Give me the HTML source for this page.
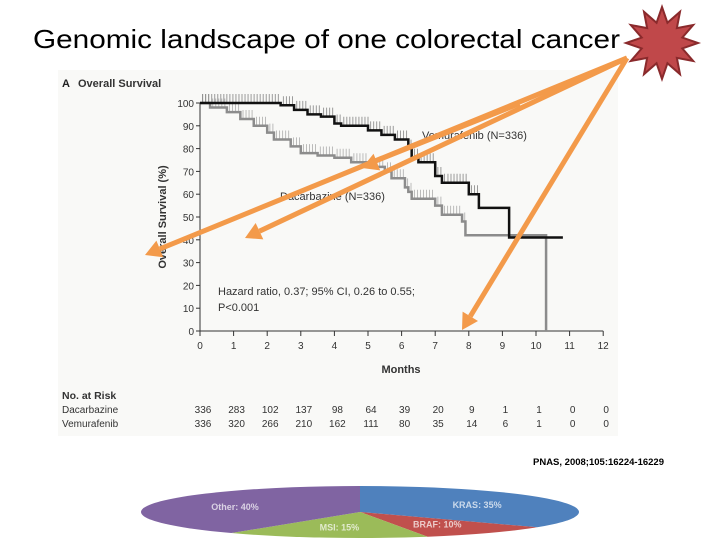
<!DOCTYPE html>
<html><head><meta charset="utf-8"><style>
html,body{margin:0;padding:0;background:#fff;width:720px;height:540px;overflow:hidden}
svg{display:block;font-family:"Liberation Sans",sans-serif}
</style></head><body>
<svg id="c" width="720" height="540" viewBox="0 0 720 540">
<text x="33" y="48" font-size="26" textLength="587" lengthAdjust="spacingAndGlyphs" fill="#000">Genomic landscape of one colorectal cancer</text>
<rect x="58" y="70" width="560" height="366" fill="#f9f9f7"/>
<text x="62" y="87" font-size="11" font-weight="bold" fill="#222">A</text>
<text x="78" y="87" font-size="11" font-weight="bold" fill="#333">Overall Survival</text>
<text transform="translate(166,217) rotate(-90)" text-anchor="middle" font-size="11" font-weight="bold" fill="#333">Overall Survival (%)</text>
<text x="401" y="373" text-anchor="middle" font-size="11" font-weight="bold" fill="#333">Months</text>
<text x="218" y="295" font-size="11" fill="#333">Hazard ratio, 0.37; 95% CI, 0.26 to 0.55;</text>
<text x="218" y="311" font-size="11" fill="#333">P&lt;0.001</text>
<text x="422" y="139" font-size="11" fill="#333">Vemurafenib (N=336)</text>
<text x="280" y="200" font-size="11" fill="#333">Dacarbazine (N=336)</text>
<text x="62" y="399" font-size="10.5" font-weight="bold" fill="#333">No. at Risk</text>
<text x="62" y="413" font-size="10" fill="#333">Dacarbazine</text>
<text x="62" y="427" font-size="10" fill="#333">Vemurafenib</text>
<text x="533" y="465" font-size="9.5" font-weight="bold" fill="#000">PNAS, 2008;105:16224-16229</text>
<g id="plot"></g>
<g id="pie"></g>
<g id="arrows"></g>
<polygon id="star" fill="#c0484a" stroke="#8a2a2c" stroke-width="2"/>
</svg>
<script>
const months = [0,1,2,3,4,5,6,7,8,9,10,11,12];
const yTicks = [0,10,20,30,40,50,60,70,80,90,100];
const vemT = [0,2.4,2.8,3.2,3.6,4.0,4.2,5.0,5.4,5.8,6.2,6.3,6.5,7.0,7.2,7.3,8.0,8.3,9.2,10.8];
const vemS = [100,99,97,95,94,91,90,88,86,84,80,76,74,68,65,65,60,54,41,41];
const dacT = [0,0.3,0.8,1.2,1.6,2.0,2.2,2.7,3.0,3.5,4.0,4.5,5.0,5.5,5.7,6.1,6.2,6.3,7.0,7.2,7.8,7.9,10.3];
const dacS = [100,98,96,93,90,87,84,81,78,77,76,74,72,70,67,63,61,58,55,51,48,42,0];
const riskDac = [336,283,102,137,98,64,39,20,9,1,1,0,0];
const riskVem = [336,320,266,210,162,111,80,35,14,6,1,0,0];
const pieLabels = ["KRAS: 35%","BRAF: 10%","MSI: 15%","Other: 40%"];
const pieValues = [35,10,15,40];
const pieColors = ["#4f81bd","#c0504d","#9bbb59","#8064a2"];

const NS="http://www.w3.org/2000/svg";
const X=m=>200+m*33.6, Y=v=>331-v*2.28;
const plot=document.getElementById('plot');
function mk(t,a,p){const e=document.createElementNS(NS,t);for(const k in a)e.setAttribute(k,a[k]);(p||plot).appendChild(e);return e;}
const ax=mk('path',{d:`M${X(0)},${Y(0)}V${Y(100)}M${X(0)},${Y(0)}H${X(12)}`,stroke:'#333','stroke-width':1,fill:'none'});


months.forEach(m=>{
 const t=mk('line',{x1:X(m),x2:X(m),y1:Y(0),y2:Y(0)+5,stroke:'#333'});
 
 
 const l=mk('text',{x:X(m),y:Y(0)+18,'text-anchor':'middle','font-size':10,fill:'#333'});l.textContent=m;
 
 
 const a=mk('text',{x:X(m)+3,y:413,'text-anchor':'middle','font-size':10,fill:'#333'});a.textContent=riskDac[m];
 
 
 const b=mk('text',{x:X(m)+3,y:427,'text-anchor':'middle','font-size':10,fill:'#333'});b.textContent=riskVem[m];
 
 
});
yTicks.forEach(v=>{
 const t=mk('line',{x1:X(0)-4,x2:X(0),y1:Y(v),y2:Y(v),stroke:'#333'});
 
 
 const l=mk('text',{x:X(0)-6,y:Y(v)+4,'text-anchor':'end','font-size':10,fill:'#333'});l.textContent=v;
 
 
});
function step(T,S){let d=`M${X(T[0])},${Y(S[0])}`;for(let i=1;i<T.length;i++)d+=`H${X(T[i])}V${Y(S[i])}`;return d;}
function censor(T,S,col,name){let d='';for(let i=0;i<T.length-1;i++){for(let m=T[i]+0.08;m<T[i+1];m+=0.09)d+=`M${X(m)},${Y(S[i])}v-9`;}const c=mk('path',{d,stroke:col,'stroke-width':0.8,fill:'none',opacity:0.8});}
censor(dacT.slice(0,22),dacS.slice(0,22),'#999','dacarbazine-censor-marks');
censor(vemT.slice(0,18),vemS.slice(0,18),'#666','vemurafenib-censor-marks');
const dp=mk('path',{d:step(dacT,dacS),stroke:'#8c8c8c','stroke-width':2.5,fill:'none'});


const vp=mk('path',{d:step(vemT,vemS),stroke:'#111','stroke-width':2.5,fill:'none'});



const pg=document.getElementById('pie');
const cx=360,cy=512,rx=219,ry=26;
const total=pieValues.reduce((a,b)=>a+b,0);
let ang=-Math.PI/2;
pieValues.forEach((v,i)=>{
 const a2=ang+v/total*2*Math.PI;
 const p=(a)=>`${cx+rx*Math.cos(a)},${cy+ry*Math.sin(a)}`;
 const s=mk('path',{d:`M${cx},${cy}L${p(ang)}A${rx},${ry} 0 ${a2-ang>Math.PI?1:0} 1 ${p(a2)}Z`,fill:pieColors[i]},pg);
 
 
 const mid=(ang+a2)/2;
 const t=mk('text',{x:cx+rx*0.6*Math.cos(mid),y:cy+ry*0.6*Math.sin(mid)+3,'text-anchor':'middle','font-size':9,'font-weight':'bold',fill:'#fff',opacity:0.7},pg);
 t.textContent=pieLabels[i];
 
 
 ang=a2;
});

const ag=document.getElementById('arrows');
[[627,58,145,255],[627,58,245,238],[627,58,462,330],[520,105,362,168]].forEach((a,i)=>{
 const [x1,y1,x2,y2]=a, L=Math.hypot(x2-x1,y2-y1), ux=(x2-x1)/L, uy=(y2-y1)/L;
 const bx=x2-ux*16, by=y2-uy*16;
 const g=mk('g',{},ag);
 
 
 mk('line',{x1,y1,x2:bx,y2:by,stroke:'#f39a4a','stroke-width':i==3?2:5},g);
 mk('polygon',{points:`${x2},${y2} ${bx-uy*9},${by+ux*9} ${bx+uy*9},${by-ux*9}`,fill:'#f39a4a'},g);
});
let pts=[];for(let i=0;i<24;i++){const r=i%2?21:36, a=i*Math.PI/12-Math.PI/2;pts.push(`${662+r*Math.cos(a)},${43+r*Math.sin(a)}`);}
document.getElementById('star').setAttribute('points',pts.join(' '));
</script>
</body></html>
